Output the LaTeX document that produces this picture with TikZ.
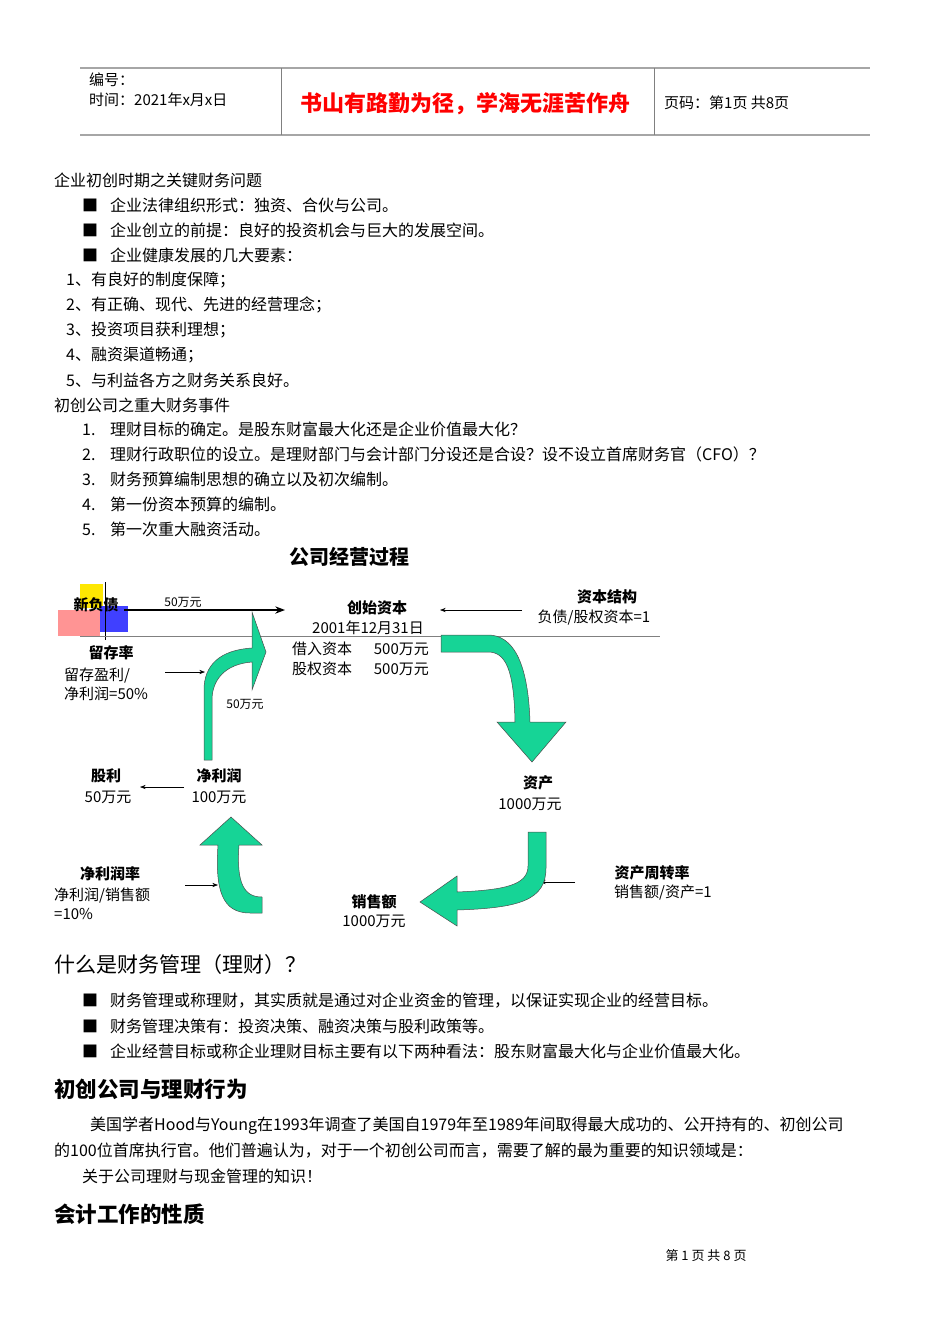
\documentclass[tikz,border=0pt]{standalone}
\usepackage{fontspec}
\setmainfont{Liberation Serif}
\newfontfamily\cjk{Noto Sans CJK SC}
\usetikzlibrary{arrows.meta}
\definecolor{flow}{RGB}{22,212,150}
\tikzset{
  txt/.style={anchor=west, inner sep=0pt, font=\cjk\fontsize{16}{20}\selectfont},
  head/.style={anchor=west, inner sep=0pt, font=\cjk\bfseries\fontsize{21.5}{24}\selectfont},
  lbl/.style={inner sep=0pt, align=center, font=\cjk\fontsize{15}{17}\selectfont},
  dlbl/.style={anchor=west, inner sep=0pt, align=left, font=\cjk\fontsize{15}{19}\selectfont},
  blbl/.style={inner sep=0pt, align=center, font=\cjk\bfseries\fontsize{15}{17}\selectfont},
  klein/.style={inner sep=0pt, font=\cjk\fontsize{12}{14}\selectfont},
  pfeil/.style={->, >=Stealth, line width=0.6pt},
  band/.style={draw=black!70, fill=flow, line width=0.5pt}
}
\newcommand{\pkt}[1]{\makebox[28pt][l]{#1}}
\begin{document}
\begin{tikzpicture}[x=1pt, y=-1pt]
  \useasboundingbox (0,0) rectangle (950,1344);
  % Kopf
  \draw[gray!70, line width=1.2pt] (80,68) -- (870,68);
  \draw[gray!70, line width=1.2pt] (80,135) -- (870,135);
  \draw[gray] (281,68) -- (281,135);
  \draw[gray] (654,68) -- (654,135);
  \node[txt, font=\cjk\fontsize{15}{17}\selectfont] (nr) at (89,80) {编号：};
  \node[txt, font=\cjk\fontsize{15}{17}\selectfont] (zeit) at (89,100) {时间：2021年x月x日};
  \node[txt, text=red, font=\cjk\bfseries\fontsize{22}{24}\selectfont] (motto) at (300,104) {书山有路勤为径，学海无涯苦作舟};
  \node[txt, font=\cjk\fontsize{15}{17}\selectfont] (seite) at (664,103) {页码：第1页 共8页};
  % Text
  \node[txt] (t1) at (54,180) {企业初创时期之关键财务问题};
  \node[txt] (t2) at (82,205) {\pkt{■}企业法律组织形式：独资、合伙与公司。};
  \node[txt] (t3) at (82,230) {\pkt{■}企业创立的前提：良好的投资机会与巨大的发展空间。};
  \node[txt] (t4) at (82,255) {\pkt{■}企业健康发展的几大要素：};
  \node[txt] (t5) at (66,280) {1、有良好的制度保障；};
  \node[txt] (t6) at (66,305) {2、有正确、现代、先进的经营理念；};
  \node[txt] (t7) at (66,330) {3、投资项目获利理想；};
  \node[txt] (t8) at (66,355) {4、融资渠道畅通；};
  \node[txt] (t9) at (66,380) {5、与利益各方之财务关系良好。};
  \node[txt] (t10) at (54,405) {初创公司之重大财务事件};
  \node[txt] (t11) at (82,429) {\pkt{1.}理财目标的确定。是股东财富最大化还是企业价值最大化？};
  \node[txt] (t12) at (82,454) {\pkt{2.}理财行政职位的设立。是理财部门与会计部门分设还是合设？设不设立首席财务官（CFO）？};
  \node[txt] (t13) at (82,479) {\pkt{3.}财务预算编制思想的确立以及初次编制。};
  \node[txt] (t14) at (82,504) {\pkt{4.}第一份资本预算的编制。};
  \node[txt] (t15) at (82,529) {\pkt{5.}第一次重大融资活动。};
  % Diagramm
  \node[blbl, font=\cjk\bfseries\fontsize{20}{22}\selectfont] (titel) at (349,557) {公司经营过程};
  \fill[yellow!90!orange] (80,584) rectangle (103,608);
  \fill[blue!75] (100,606) rectangle (128,632);
  \fill[red!60, opacity=0.7] (58,610) rectangle (100,636);
  \draw[thick] (105,582) -- (105,640);
  \draw[gray, thick] (80,636) -- (660,636);
  \node[blbl] (neu) at (96,605) {新负债};
  \node[klein] (f1) at (183,602) {50万元};
  \coordinate (gz) at (285,610);
  \draw[->, >=Stealth, line width=1.5pt] (124,610) -- (gz);
  \node[blbl] (grund) at (377,608) {创始资本};
  \node[lbl] (datum) at (368,628) {2001年12月31日};
  \node[dlbl] (lei) at (292,649) {借入资本\quad\ \ 500万元};
  \node[dlbl] (eig) at (292,669) {股权资本\quad\ \ 500万元};
  \node[blbl] (struk) at (607,597) {资本结构};
  \node[lbl] (strukv) at (594,618) {负债/股权资本=1};
  \draw[pfeil] (522,610) -- (440,610);
  \node[blbl] (rueck) at (111,653) {留存率};
  \node[dlbl] (rueckv) at (64,684) {留存盈利/\\净利润=50\%};
  \coordinate (rz) at (205,672);
  \draw[pfeil] (165,672) -- (rz);
  \node[klein] (f2) at (245,704) {50万元};
  \node[blbl] (akt) at (538,783) {资产};
  \node[lbl] (aktv) at (530,804) {1000万元};
  \node[blbl] (umsch) at (652,873) {资产周转率};
  \node[lbl] (umschv) at (663,893) {销售额/资产=1};
  \coordinate (uz) at (540,882);
  \draw[pfeil] (575,882) -- (uz);
  \node[blbl] (ums) at (374,902) {销售额};
  \node[lbl] (umsv) at (374,921) {1000万元};
  \node[blbl] (rate) at (110,874) {净利润率};
  \node[dlbl] (ratev) at (54,904) {净利润/销售额\\=10\%};
  \coordinate (nz) at (218,885);
  \draw[pfeil] (185,885) -- (nz);
  \node[blbl] (gew) at (219,776) {净利润};
  \node[lbl] (gewv) at (219,797) {100万元};
  \node[blbl] (div) at (106,776) {股利};
  \node[lbl] (divv) at (108,797) {50万元};
  \draw[pfeil] (184,787) -- (140,787);
  % gruene Pfeile
  \draw[band] (441,635) -- (488,635) .. controls (512,635) and (528,660) .. (530,722)
     -- (566,722) -- (532,762) -- (497,722) -- (515,722) .. controls (514,668) and (505,652) .. (488,652) -- (441,652) -- cycle;
  \draw[band] (528,832) -- (546,832) -- (546,868) .. controls (546,900) and (520,908) .. (457,910)
     -- (457,926) -- (420,902) -- (457,876) -- (457,892) .. controls (505,890) and (528,885) .. (528,866) -- cycle;
  \draw[band] (262,897) -- (262,913) -- (250,913) .. controls (222,913) and (215,890) .. (218,845)
     -- (200,845) -- (231,817) -- (262,845) -- (239,845) .. controls (236,885) and (245,897) .. (262,897) -- cycle;
  \draw[band] (204,760) -- (204,690) .. controls (204,665) and (220,650) .. (252,648)
     -- (252,612) -- (266,652) -- (252,690) -- (252,662) .. controls (225,664) and (212,680) .. (212,700) -- (212,760) -- cycle;
  % weiterer Text
  \node[txt, font=\cjk\fontsize{21}{24}\selectfont] (q) at (54,965) {什么是财务管理（理财）？};
  \node[txt] (q1) at (82,1001) {\pkt{■}财务管理或称理财，其实质就是通过对企业资金的管理，以保证实现企业的经营目标。};
  \node[txt] (q2) at (82,1026) {\pkt{■}财务管理决策有：投资决策、融资决策与股利政策等。};
  \node[txt] (q3) at (82,1051) {\pkt{■}企业经营目标或称企业理财目标主要有以下两种看法：股东财富最大化与企业价值最大化。};
  \node[head] (h1) at (54,1089) {初创公司与理财行为};
  \node[txt] (p1) at (90,1126) {美国学者Hood与Young在1993年调查了美国自1979年至1989年间取得最大成功的、公开持有的、初创公司};
  \node[txt] (p2) at (54,1151) {的100位首席执行官。他们普遍认为，对于一个初创公司而言，需要了解的最为重要的知识领域是：};
  \node[txt] (p3) at (82,1176) {关于公司理财与现金管理的知识！};
  \node[head] (h2) at (54,1214) {会计工作的性质};
  \node[klein, font=\cjk\fontsize{13}{15}\selectfont] (fuss) at (706,1256) {第\ 1\ 页\ 共\ 8\ 页};
\end{tikzpicture}
\end{document}
